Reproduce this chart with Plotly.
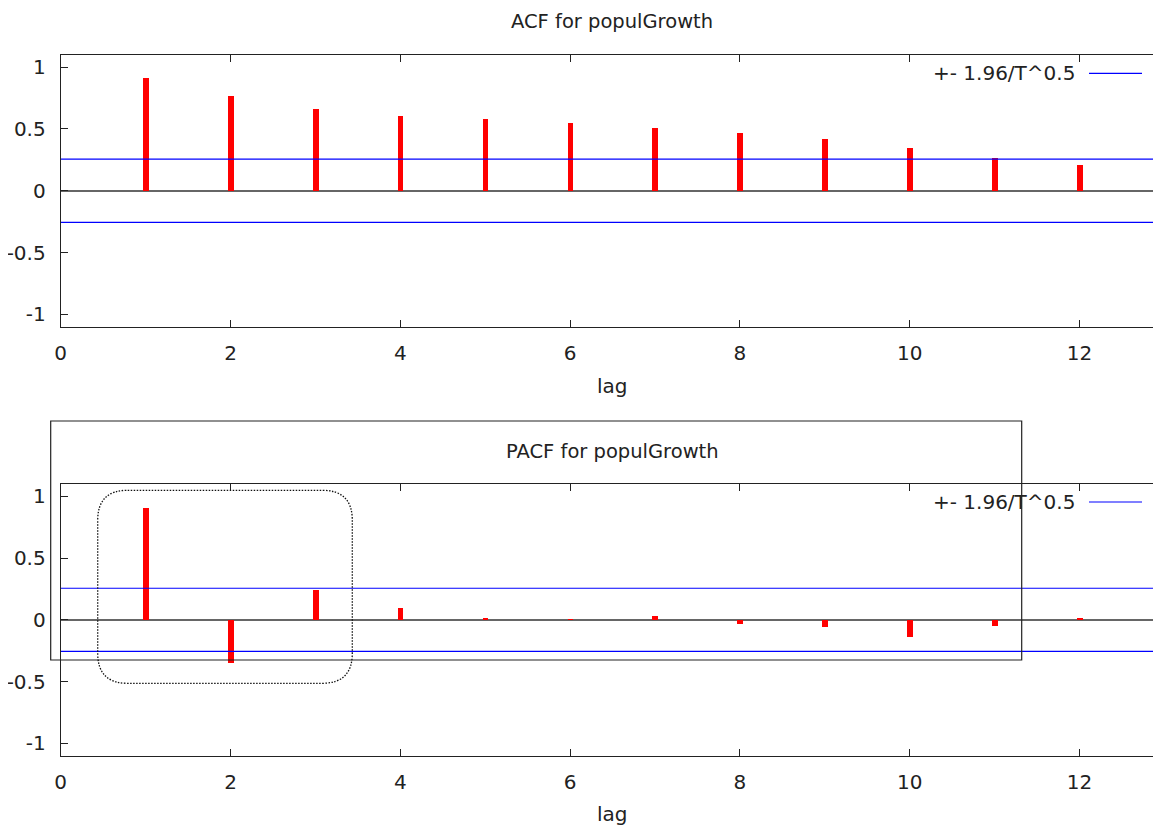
import plotly.graph_objects as go

# The page body has a default 8px margin, so the figure is drawn offset by it.
OFF = 8
W, H = 1161 - OFF, 825 - OFF

lags = list(range(1, 13))
acf_values = [0.910, 0.767, 0.662, 0.608, 0.579, 0.547, 0.509, 0.466, 0.417, 0.347, 0.269, 0.207]
pacf_values = [0.905, -0.348, 0.243, 0.100, 0.014, 0.003, 0.030, -0.032, -0.057, -0.142, -0.048, 0.014]
conf_band = 0.256
x_ticks = [0, 2, 4, 6, 8, 10, 12]
y_ticks = [-1, -0.5, 0, 0.5, 1]
y_tick_labels = ["-1", "-0.5", "0", "0.5", "1"]
series_label = "+- 1.96/T^0.5"
titles = ["ACF for populGrowth", "PACF for populGrowth"]
x_title = "lag"

FONT = "DejaVu Sans"
FS = 20


def px_x(p):
    return (p - OFF) / W


def px_y(p):
    return 1 - (p - OFF) / H


fig = go.Figure()

panels = [
    dict(vals=acf_values, xa="x", ya="y", top=54.7, bottom=326.7),
    dict(vals=pacf_values, xa="x2", ya="y2", top=484.0, bottom=755.7),
]

for i, p in enumerate(panels):
    fig.add_trace(go.Bar(x=lags, y=p["vals"], width=0.068, marker=dict(color="#ff0000", line=dict(width=0)),
                         xaxis=p["xa"], yaxis=p["ya"], showlegend=False))
    for s in (1, -1):
        fig.add_trace(go.Scatter(x=[0, 13], y=[s * conf_band, s * conf_band], mode="lines",
                                 line=dict(color="#0000ff", width=1.2), xaxis=p["xa"], yaxis=p["ya"],
                                 showlegend=False))

axis_common = dict(showline=True, linecolor="#222222", linewidth=1, mirror="ticks", ticks="inside",
                   ticklen=7, tickcolor="#222222", showgrid=False, automargin=False,
                   tickfont=dict(family=FONT, size=FS, color="#222222"))

x_dom = [px_x(60.7), 1.0]
x_right_val = (W + OFF - 60.7) / 84.9
for i, p in enumerate(panels):
    suffix = "" if i == 0 else "2"
    ydom = [px_y(p["bottom"]), px_y(p["top"])]
    fig.update_layout(**{
        "xaxis" + suffix: dict(axis_common, domain=x_dom, range=[0, x_right_val], tickvals=x_ticks,
                               anchor="y" + suffix, zeroline=False, ticklabelstandoff=8),
        "yaxis" + suffix: dict(axis_common, domain=ydom, range=[-1.1, 1.1], tickvals=y_ticks,
                               ticktext=y_tick_labels, anchor="x" + suffix, zeroline=True,
                               zerolinecolor="#666666", zerolinewidth=1.6, ticklabelstandoff=10),
    })

annotations = []
shapes = []
title_y = [21, 451.7]
lag_y = [386, 814]
legend_y = [73.3, 502]
for i in range(2):
    annotations.append(dict(text=titles[i], x=px_x(612), y=px_y(title_y[i]), xref="paper", yref="paper",
                            showarrow=False, xanchor="center", yanchor="middle",
                            font=dict(family=FONT, size=19.5, color="#222222")))
    annotations.append(dict(text=x_title, x=px_x(612), y=px_y(lag_y[i]), xref="paper", yref="paper",
                            showarrow=False, xanchor="center", yanchor="middle",
                            font=dict(family=FONT, size=FS, color="#222222")))
    annotations.append(dict(text=series_label, x=px_x(1077), y=px_y(legend_y[i]), xref="paper", yref="paper",
                            showarrow=False, xanchor="right", yanchor="middle",
                            font=dict(family=FONT, size=FS, color="#222222")))
    shapes.append(dict(type="line", xref="paper", yref="paper", x0=px_x(1089), x1=px_x(1142),
                       y0=px_y(legend_y[i]), y1=px_y(legend_y[i]), line=dict(color="#0000ff", width=1.2)))

# solid rectangle overlay around the PACF title
shapes.append(dict(type="rect", xref="paper", yref="paper", x0=px_x(50.7), x1=px_x(1021.7),
                   y0=px_y(660), y1=px_y(421), line=dict(color="#222222", width=1.2), layer="above"))

# dotted rounded rectangle
x0, x1, y0, y1, r = 97.7, 352.3, 490.3, 683.3, 30


def P(x, y):
    return f"{px_x(x):.5f},{px_y(y):.5f}"


path = (f"M {P(x0 + r, y0)} L {P(x1 - r, y0)} Q {P(x1, y0)} {P(x1, y0 + r)} "
        f"L {P(x1, y1 - r)} Q {P(x1, y1)} {P(x1 - r, y1)} "
        f"L {P(x0 + r, y1)} Q {P(x0, y1)} {P(x0, y1 - r)} "
        f"L {P(x0, y0 + r)} Q {P(x0, y0)} {P(x0 + r, y0)} Z")
shapes.append(dict(type="path", xref="paper", yref="paper", path=path,
                   line=dict(color="#111111", width=1.3, dash="1.5px,1.5px"), layer="above"))

fig.update_layout(width=W, height=H, margin=dict(l=0, r=0, t=0, b=0), plot_bgcolor="white",
                  paper_bgcolor="white", annotations=annotations, shapes=shapes, bargap=0,
                  barmode="overlay")

fig.write_html("out.html")
